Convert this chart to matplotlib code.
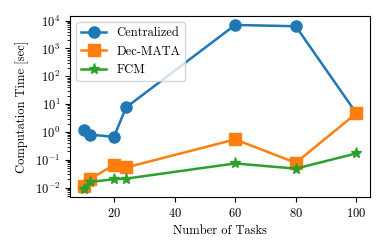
import matplotlib
matplotlib.use("Agg")
import matplotlib.pyplot as plt

plt.rcParams['font.family'] = ['cmr10']
plt.rcParams['mathtext.fontset'] = 'cm'
plt.rcParams['axes.formatter.use_mathtext'] = True
plt.rcParams['axes.unicode_minus'] = False

tasks = [10, 12, 20, 24, 60, 80, 100]
centralized = [1.2, 0.8, 0.67, 7.6, 7000, 6300, 4.7]
dec_mata = [0.011, 0.02, 0.065, 0.053, 0.54, 0.078, 4.7]
fcm = [0.0087, 0.016, 0.020, 0.021, 0.074, 0.048, 0.17]

fig = plt.figure(figsize=(3.87, 2.49), dpi=100)
ax = fig.add_axes([70/387, 1-197/249, 300/387, 181/249])
ax.plot(tasks, centralized, marker='o', markersize=8, linewidth=1.8, label='Centralized')
ax.plot(tasks, dec_mata, marker='s', markersize=8, linewidth=1.8, label='Dec-MATA')
ax.plot(tasks, fcm, marker='*', markersize=8, linewidth=1.8, label='FCM')
ax.set_yscale('log')
ax.set_xlim(5.5, 104.5)
ax.set_ylim(0.0046, 14700)
ax.set_xticks([20, 40, 60, 80, 100])
ax.set_xlabel('Number of Tasks', fontsize=9)
ax.set_ylabel('Computation Time [sec]', fontsize=9)
ax.tick_params(labelsize=9)
ax.legend(loc='upper left', fontsize=9)
fig.savefig('out.png', dpi=100)
